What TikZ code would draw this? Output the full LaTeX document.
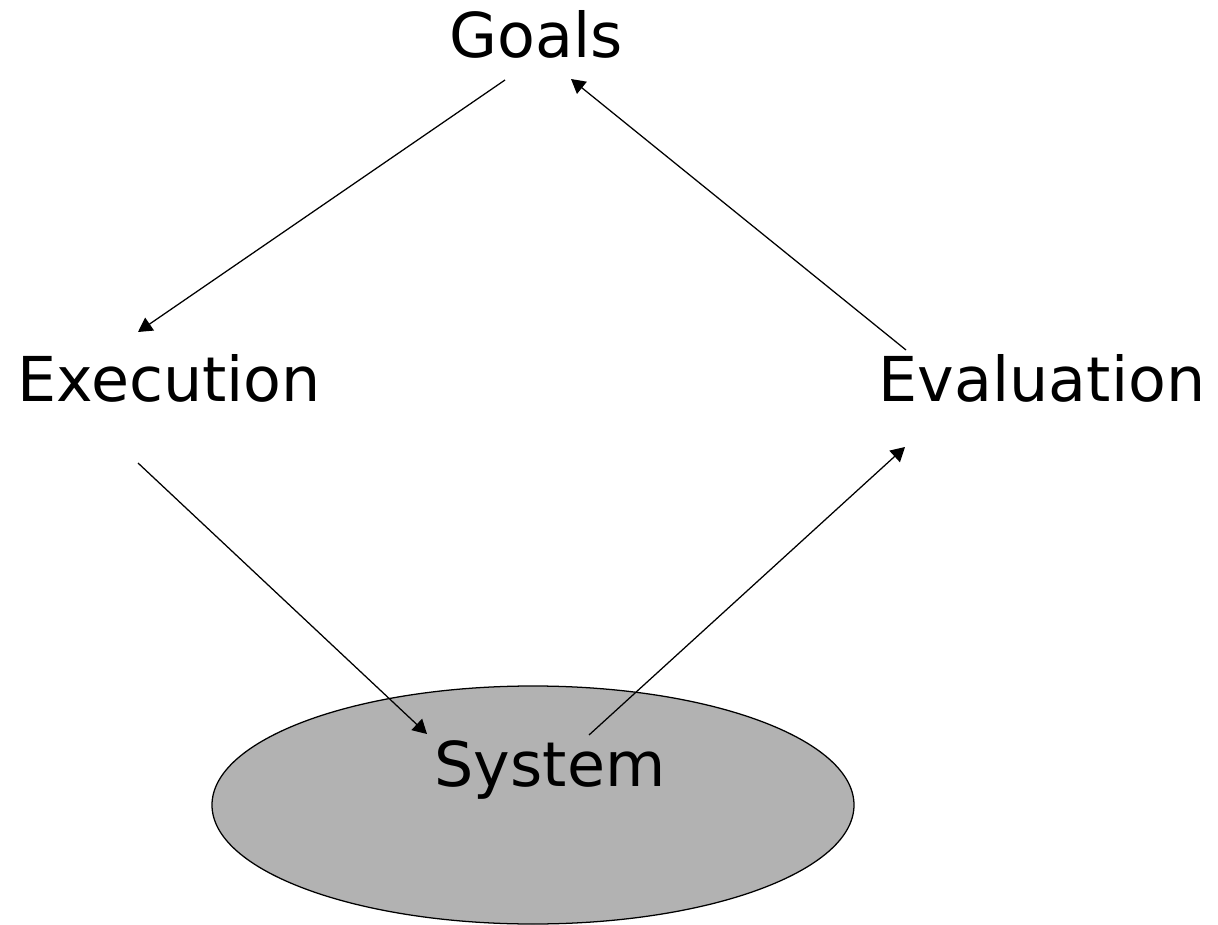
\documentclass[tikz,border=0pt]{standalone}
\usepackage{fontspec}
\setmainfont{DejaVu Sans}
\usepackage{tikz}
\usetikzlibrary{shapes.geometric, arrows.meta, positioning, calc}
\definecolor{systemgray}{HTML}{B2B2B2}

\begin{document}
\begin{tikzpicture}[x=0.025cm, y=-0.025cm,
		stage/.style={inner sep=0pt, anchor=base, font=\fontsize{44}{52}\selectfont},
		flow/.style={-{Triangle[length=10pt, width=11pt]}, line width=0.9pt}]
				\useasboundingbox (0,0) rectangle (1218,925);
				% the system at the bottom
				\node[ellipse, draw, fill=systemgray, line width=0.9pt,
				minimum width=642*0.025cm, minimum height=238*0.025cm] (sysbox) at (533,805) {};
				\node[stage] (system) at (550,786) {System};
				% the three stages of the cycle
				\node[stage] (goals) at (536,58) {Goals};
				\node[stage] (exec) at (169,402) {Execution};
				\node[stage] (eval) at (1042,402) {Evaluation};
				% arrows round the cycle
				\draw[flow] ($(goals.base)+(-31,22)$) -- ($(exec.base)+(-31,-70)$);
				\draw[flow] ($(exec.base)+(-31,61)$) -- ($(system.base)+(-123,-52)$);
				\draw[flow] ($(system.base)+(39,-51)$) -- ($(eval.base)+(-137,45)$);
				\draw[flow] ($(eval.base)+(-136,-52)$) -- ($(goals.base)+(35,21)$);
			\end{tikzpicture}
\end{document}
